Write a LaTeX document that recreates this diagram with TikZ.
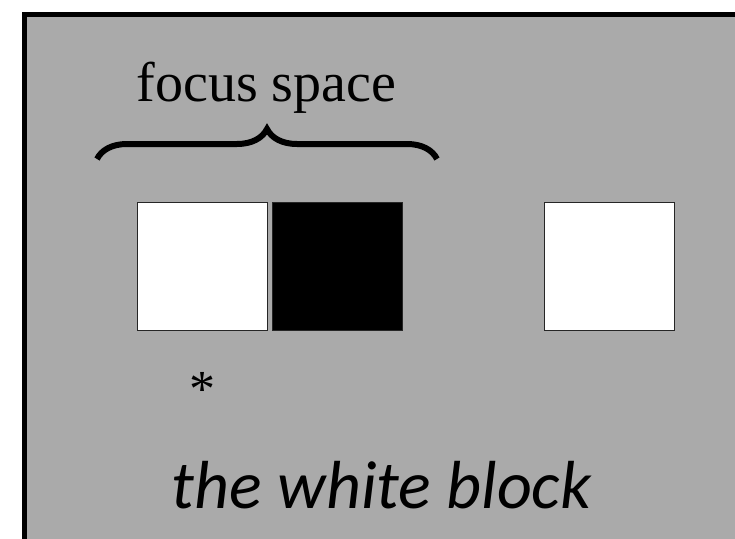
\documentclass[tikz,border=0pt]{standalone}
\usepackage{fontspec}
\setmainfont{Liberation Serif}
\newfontfamily\blockfont{Carlito}
\usepackage{tikz}
\usetikzlibrary{positioning,decorations.pathreplacing}
\definecolor{panelgray}{RGB}{170,170,170}

\begin{document}
\begin{tikzpicture}[
    x=1pt, y=-1pt,
    square/.style={
        draw=black!85,
        line width=1pt,
        minimum width=130pt,
        minimum height=128pt,
        inner sep=0pt,
        outer sep=0pt
    },
    whitesquare/.style={square, fill=white},
    blacksquare/.style={square, fill=black},
    bracestyle/.style={decorate, decoration={brace, amplitude=30pt},
                       line width=6pt},
    textlabel/.style={inner sep=0pt, anchor=base}
]
\useasboundingbox (0,0) rectangle (735,538);
\fill[white] (0,0) rectangle (735,538);
\clip (0,0) rectangle (735,538);

% the panel runs off the right and bottom edges
\draw[line width=5pt, fill=panelgray] (24.5,14.8) rectangle (780,580);

\node[whitesquare, anchor=north west] (leftsq) at (137.5,202.5) {};
\node[blacksquare, right=5pt of leftsq] (midsq) {};
\node[whitesquare, right=142pt of midsq] (rightsq) {};

\node[textlabel, font=\fontsize{56}{60}\selectfont] (focus)
    at (266.5,101) {focus space};
\coordinate (braceL) at (97,159);
\coordinate (braceR) at (437,159);
\draw[bracestyle] (braceL) -- (braceR);

\node[textlabel, font=\fontsize{52}{56}\selectfont] (star)
    at (202,406) {*};

\node[textlabel, font=\blockfont\itshape\fontsize{68}{76}\selectfont] (caption)
    at (381.5,508) {the white block};

\end{tikzpicture}
\end{document}
